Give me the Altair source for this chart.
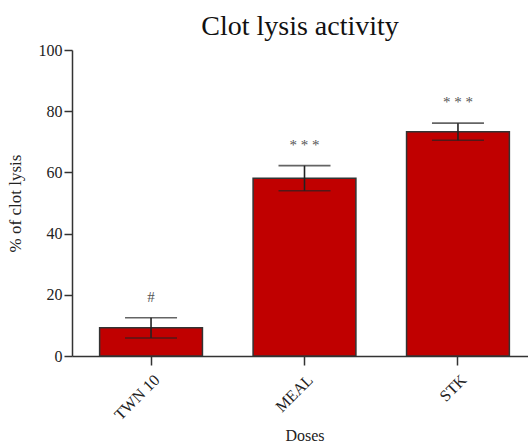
import altair as alt
import pandas as pd

categories = ["TWN 10", "MEAL", "STK"]
means = [9.2, 58.1, 73.3]
errors = [3.3, 4.1, 2.8]
marks = ["#", "* * *", "* * *"]

df = pd.DataFrame({
    "dose": categories,
    "mean": means,
    "err": errors,
    "mark": marks,
})
df["lo"] = df["mean"] - df["err"]
df["hi"] = df["mean"] + df["err"]

FONT = "Liberation Serif"

x = alt.X(
    "dose:N",
    sort=categories,
    scale=alt.Scale(range=[0, 465], paddingInner=0.33, paddingOuter=0.18),
    axis=alt.Axis(
        title="Doses",
        labelAngle=-45,
        labelAlign="right",
        labelBaseline="middle",
        labelFont=FONT,
        labelFontSize=16,
        labelColor="#222",
        titleFont=FONT,
        titleFontSize=16,
        titleFontWeight="normal",
        titleColor="#222",
        titlePadding=5,
        tickSize=9,
        tickWidth=1.5,
        tickColor="#333",
        domainColor="#333",
        domainWidth=1.5,
        labelPadding=12,
        labelOffset=6,
        grid=False,
    ),
)

base = alt.Chart(df).encode(x=x)

bars = base.mark_bar(color="#c00000", stroke="#333", strokeWidth=1.5).encode(
    y=alt.Y(
        "mean:Q",
        scale=alt.Scale(domain=[0, 100], nice=False),
        axis=alt.Axis(
            title="% of clot lysis",
            values=[0, 20, 40, 60, 80, 100],
            labelFont=FONT,
            labelFontSize=16,
            labelColor="#222",
            titleFont=FONT,
            titleFontSize=17,
            titleFontWeight="normal",
            titleColor="#222",
            titlePadding=14,
            tickSize=8,
            tickWidth=1.5,
            tickColor="#333",
            domainColor="#333",
            domainWidth=1.5,
            grid=False,
            labelPadding=2,
        ),
    )
)

rules = base.mark_rule(color="#222", strokeWidth=1.6).encode(
    y="lo:Q", y2="hi:Q"
)
cap_hi = base.mark_tick(color="#222", thickness=1.6, size=52).encode(y="hi:Q")
cap_lo = base.mark_tick(color="#222", thickness=1.6, size=52).encode(y="lo:Q")

text = base.mark_text(
    font=FONT, fontSize=15, color="#555", dy=-21, baseline="middle"
).encode(y="hi:Q", text="mark:N")

chart = (
    alt.layer(bars, rules, cap_hi, cap_lo, text)
    .properties(
        width=456,
        height=306,
        background="white",
        autosize=alt.AutoSizeParams(type="none"),
        padding={"left": 72, "top": 50, "right": 0, "bottom": 92},
        title=alt.Title(
            "Clot lysis activity",
            font=FONT,
            fontSize=28,
            fontWeight="normal",
            color="#111",
            anchor="middle",
            offset=1,
        ),
    )
    .configure_view(strokeWidth=0, stroke="transparent")
    .configure_axis(grid=False)
)

chart.save("out.html", embed_options={"renderer": "svg", "actions": False})
